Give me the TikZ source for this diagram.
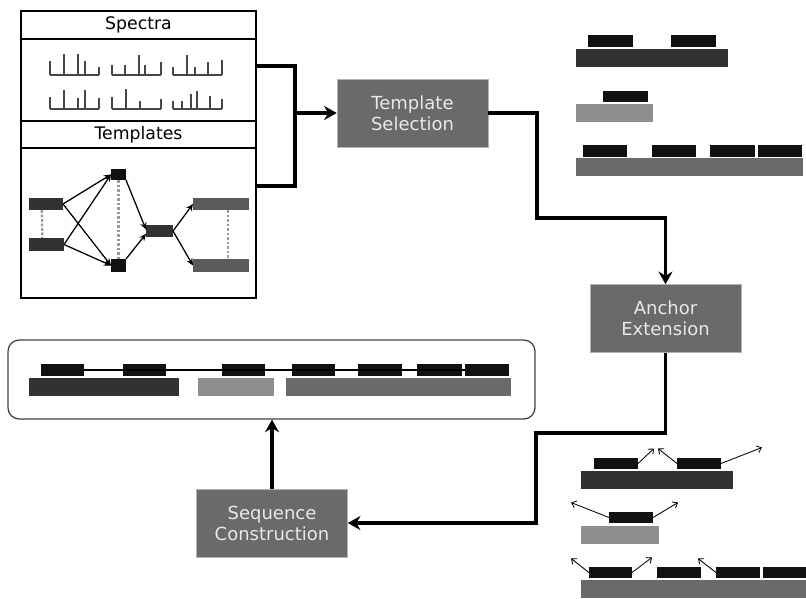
\documentclass[tikz,border=0pt]{standalone}
\usepackage{fontspec}
\setmainfont{DejaVu Sans}
\usepackage{tikz}
\usepackage{xcolor}
\usetikzlibrary{arrows.meta,fit,calc}
\definecolor{barblack}{RGB}{17,17,17}
\definecolor{bardark}{RGB}{50,50,50}
\definecolor{barlight}{RGB}{142,142,142}
\definecolor{barmid}{RGB}{106,106,106}
\definecolor{procgray}{RGB}{106,106,106}
\definecolor{proctext}{RGB}{232,232,232}
\definecolor{specgray}{RGB}{70,70,70}

\begin{document}
\begin{tikzpicture}[
    x=0.025cm,y=-0.025cm,
    proc/.style={draw=gray!60,fill=procgray,minimum width=3.775cm,
      minimum height=1.7cm,align=center,text=proctext,
      font=\fontsize{12.8}{15}\selectfont},
    panel/.style={draw,line width=1.4pt,inner sep=0pt},
    head/.style={font=\fontsize{12.3}{14}\selectfont},
    bar/.style={inner sep=0pt,outer sep=0pt},
    wire/.style={line width=2.2pt},
    arr/.style={-{Stealth[length=9pt,width=10pt,inset=3pt]},line width=2.2pt},
    garr/.style={-{Stealth[length=5pt,width=4.5pt]},line width=0.9pt},
    tip/.style={-{Straight Barb[length=3pt,width=5pt]},line width=0.6pt},
    link/.style={gray!80,line width=1.6pt,dash pattern=on 2pt off 1.2pt},
    spec/.style={specgray,line width=0.75pt}
  ]
    \useasboundingbox (0,0) rectangle (806,598);

    % input panel
    \node[panel,fit={(21,11) (256,39)}] (spechead) {};
    \node[panel,fit={(21,39) (256,121)}] (specbody) {};
    \node[panel,fit={(21,121) (256,148)}] (tmplhead) {};
    \node[panel,fit={(21,148) (256,298)}] (tmplbody) {};
    \node[head] (spectxt) at (spechead) {Spectra};
    \node[head] (tmpltxt) at (tmplhead) {Templates};

    \foreach \x/\y/\pk in {
        50/75/{0/14,14/21,28/21,35/14,49/8},
        112/75/{0/10,13/10,27/20,33/10,49/13},
        173/75/{0/8,14/20,22/8,35/13,49/15},
        50/109/{0/12,14/19,28/11,35/19,49/11},
        112/109/{0/12,14/20,28/8,49/10},
        173/109/{0/8,9/8,18/15,24/18,37/13,49/10}}{
      \draw[spec] (\x,\y) -- ++(49,0);
      \foreach \o/\h in \pk
        \draw[spec] (\x+\o,\y) -- ++(0,-\h);
    }

    \node[bar,fill=bardark,fit={(29,198) (63,210)}] (tl1) {};
    \node[bar,fill=bardark,fit={(29,238) (64,251)}] (tl2) {};
    \node[bar,fill=barblack,fit={(111,169) (126,180)}] (tq1) {};
    \node[bar,fill=barblack,fit={(111,259) (126,272)}] (tq2) {};
    \node[bar,fill=bardark,fit={(146,225) (173,237)}] (tm) {};
    \node[bar,fill=barmid!85!black,fit={(193,198) (249,210)}] (tr1) {};
    \node[bar,fill=barmid!85!black,fit={(193,259) (249,272)}] (tr2) {};

    \draw[link] ([xshift=-3pt]tl1.south) -- ([xshift=-3pt]tl2.north);
    \draw[link] (tq1.south) -- (tq2.north);
    \draw[link] ([xshift=5pt]tr1.south) -- ([xshift=5pt]tr2.north);

    \draw[garr] (tl1.east) -- (tq1.west);
    \draw[garr] (tl1.east) -- (tq2.west);
    \draw[garr] (tl2.east) -- (tq1.west);
    \draw[garr] (tl2.east) -- (tq2.west);
    \draw[garr] (tq1.south east) -- ([yshift=1pt]tm.west);
    \draw[garr] (tq2.north east) -- ([yshift=-2pt]tm.west);
    \draw[garr] (tm.east) -- (tr1.west);
    \draw[garr] (tm.east) -- (tr2.west);

    % steps
    \node[proc] (tsel) at (412.5,113) {Template\\Selection};
    \node[proc] (aext) at (665.5,318.5) {Anchor\\Extension};
    \node[proc] (scon) at (272,523) {Sequence\\Construction};

    \coordinate (join) at (295,113);
    \coordinate (bend1) at (537,218);
    \coordinate (bend2) at (536,433);

    \draw[wire] ($(specbody.north east)+(0,28)$) -| (join);
    \draw[wire] ($(tmplbody.north east)+(0,39)$) -| (join);
    \draw[arr] (join) -- (tsel.west);
    \draw[arr] (tsel.east) -| (bend1) -| (aext.north);
    \draw[arr] (aext.south) |- (bend2) |- (scon.east);

    % selected templates
    \node[bar,fill=bardark,fit={(576,49) (728,67)}] (s1) {};
    \node[bar,fill=barblack,fit={(588,35) (633,47)}] (s1a) {};
    \node[bar,fill=barblack,fit={(671,35) (716,47)}] (s1b) {};
    \node[bar,fill=barlight,fit={(576,104) (653,122)}] (s2) {};
    \node[bar,fill=barblack,fit={(603,91) (648,102)}] (s2a) {};
    \node[bar,fill=barmid,fit={(576,158) (803,176)}] (s3) {};
    \node[bar,fill=barblack,fit={(583,145) (627,157)}] (s3a) {};
    \node[bar,fill=barblack,fit={(652,145) (696,157)}] (s3b) {};
    \node[bar,fill=barblack,fit={(710,145) (755,157)}] (s3c) {};
    \node[bar,fill=barblack,fit={(758,145) (802,157)}] (s3d) {};

    % extended anchors
    \node[bar,fill=bardark,fit={(581,471) (733,489)}] (e1) {};
    \node[bar,fill=barblack,fit={(594,458) (638,469)}] (e1a) {};
    \node[bar,fill=barblack,fit={(677,458) (721,469)}] (e1b) {};
    \node[bar,fill=barlight,fit={(581,526) (659,544)}] (e2) {};
    \node[bar,fill=barblack,fit={(609,512) (653,523)}] (e2a) {};
    \node[bar,fill=barmid,fit={(581,580) (806,598)}] (e3) {};
    \node[bar,fill=barblack,fit={(589,567) (632,578)}] (e3a) {};
    \node[bar,fill=barblack,fit={(657,567) (701,578)}] (e3b) {};
    \node[bar,fill=barblack,fit={(716,567) (760,578)}] (e3c) {};
    \node[bar,fill=barblack,fit={(763,567) (806,578)}] (e3d) {};

    \draw[tip] (e1a.east) -- ++(16,-15);
    \draw[tip] (e1b.west) -- ++(-19,-15);
    \draw[tip] (e1b.east) -- ++(41,-16);
    \draw[tip] (e2a.west) -- ++(-38,-15);
    \draw[tip] (e2a.east) -- ++(25,-15);
    \draw[tip] (e3a.west) -- ++(-18,-14);
    \draw[tip] (e3a.east) -- ++(20,-15);
    \draw[tip] (e3c.west) -- ++(-18,-14);

    % constructed sequence
    \node[draw=black!75,line width=0.9pt,rounded corners=8pt,inner sep=0pt,
      fit={(8,340) (535,419)}] (res) {};
    \node[bar,fill=bardark,fit={(29,378) (179,396)}] (rd) {};
    \node[bar,fill=barlight,fit={(198,378) (274,396)}] (rl) {};
    \node[bar,fill=barmid,fit={(286,378) (511,396)}] (rm) {};
    \node[bar,fill=barblack,fit={(41,364) (84,376)}] (r1) {};
    \node[bar,fill=barblack,fit={(123,364) (166,376)}] (r2) {};
    \node[bar,fill=barblack,fit={(222,364) (265,376)}] (r3) {};
    \node[bar,fill=barblack,fit={(292,364) (335,376)}] (r4) {};
    \node[bar,fill=barblack,fit={(358,364) (402,376)}] (r5) {};
    \node[bar,fill=barblack,fit={(417,364) (462,376)}] (r6) {};
    \node[bar,fill=barblack,fit={(465,364) (509,376)}] (r7) {};
    \draw[line width=0.8pt] (r1) -- (r7);

    \draw[arr] (scon.north) -- (scon.north |- res.south);
  \end{tikzpicture}
\end{document}
